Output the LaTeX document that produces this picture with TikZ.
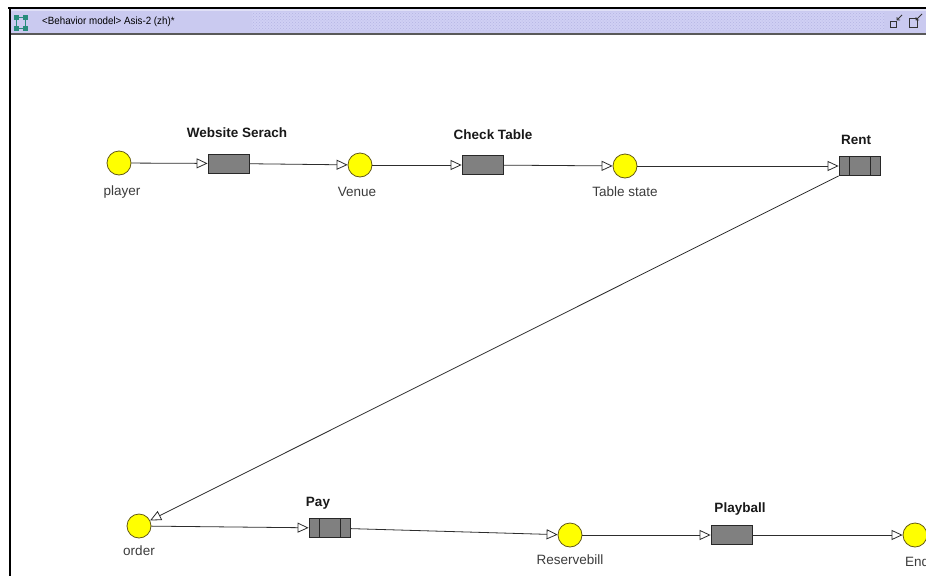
\documentclass[tikz,border=0pt]{standalone}
\usepackage{fontspec}
\setmainfont{Liberation Sans}
\usetikzlibrary{arrows.meta,patterns}

\definecolor{barfill}{RGB}{202,202,240}
\definecolor{barhatch}{RGB}{208,208,244}
\definecolor{hatchdots}{RGB}{180,180,228}
\definecolor{iconteal}{RGB}{40,140,125}
\definecolor{placefill}{RGB}{255,255,0}
\definecolor{placeedge}{RGB}{100,90,20}
\definecolor{transfill}{RGB}{128,128,128}
\definecolor{transedge}{RGB}{40,40,40}
\definecolor{edgecol}{RGB}{45,45,45}
\definecolor{labelcol}{RGB}{60,60,60}

\tikzset{
  place/.style={circle, draw=placeedge, fill=placefill, line width=0.8pt,
                minimum size=24pt, inner sep=0pt},
  trans/.style={rectangle, draw=transedge, fill=transfill, line width=0.8pt,
                minimum width=41pt, minimum height=19pt, inner sep=0pt},
  plabel/.style={font=\fontsize{13.5}{14}\selectfont, text=labelcol, inner sep=0pt},
  tlabel/.style={font=\fontsize{13.5}{14}\selectfont\bfseries, text=black!90, inner sep=0pt},
  flow/.style={draw=edgecol, line width=0.8pt,
               -{Triangle[length=11pt, width=10pt, fill=white, line width=0.8pt]}},
  divider/.style={draw=transedge, line width=0.8pt}
}

\begin{document}
\begin{tikzpicture}[x=1pt, y=-1pt]
\useasboundingbox (0,0) rectangle (926,576);
\begin{scope}
\clip (0,0) rectangle (926,576);
\fill[white] (0,0) rectangle (926,576);

% window frame and title bar
\fill[barfill] (10,9) rectangle (926,33);
\fill[white!40!barfill] (10,9) rectangle (926,11);
\fill[barhatch] (252,12) rectangle (884,30);
\fill[pattern=crosshatch dots, pattern color=hatchdots] (252,12) rectangle (884,30);
\fill[black] (8,6.5) rectangle (926,9);
\fill[black] (8.5,6.5) rectangle (11,576);
\fill[black!65] (11,32.5) rectangle (926,35);

% window icon
\draw[iconteal, line width=0.9pt] (16,17) rectangle (25,28);
\foreach \ix/\iy in {16/17, 25/17, 16/28, 25/28}
  \fill[iconteal] (\ix-2.5,\iy-2.5) rectangle (\ix+2.5,\iy+2.5);
\node[anchor=west, inner sep=0pt, font=\fontsize{10.5}{10.5}\selectfont, text=black,
      xscale=0.93] (title) at (42,21.5) {<Behavior model> Asis-2 (zh)*};

% restore / maximise buttons
\draw[black!80, line width=0.9pt] (890,21) rectangle (896,27);
\draw[black!80, line width=0.9pt] (902,15) -- (897,20) (897,17) -- (897,20) -- (900,20);
\draw[black!80, line width=0.9pt] (909,18) rectangle (917,27);
\draw[black!80, line width=0.9pt] (922,14) -- (916,20) (916,17) -- (916,20) -- (919,20);

% places
\node[place] (player) at (119,163) {};
\node[place] (venue) at (360,165) {};
\node[place] (tstate) at (625,166) {};
\node[place] (order) at (139,526) {};
\node[place] (rbill) at (570,535) {};
\node[place] (endp) at (915,535) {};

% transitions
\node[trans] (web) at (228.5,163.5) {};
\node[trans] (check) at (482.5,165) {};
\node[trans] (rent) at (859.5,166) {};
\node[trans] (pay) at (329.5,528) {};
\node[trans] (play) at (731.5,535) {};

% dividers of the composite transitions
\draw[divider] (rent.north west) ++(10.5,0) -- ++(0,19);
\draw[divider] (rent.north east) ++(-10.5,0) -- ++(0,19);
\draw[divider] (pay.north west) ++(10.5,0) -- ++(0,19);
\draw[divider] (pay.north east) ++(-10.5,0) -- ++(0,19);

% place labels
\node[plabel] (playerL) at (122,192) {player};
\node[plabel] (venueL) at (357,192) {Venue};
\node[plabel] (tstateL) at (625,192) {Table state};
\node[plabel] (orderL) at (139,551) {order};
\node[plabel] (rbillL) at (570,560) {Reservebill};
\node[plabel] (endL) at (917,562) {End};

% transition labels
\node[tlabel] (webL) at (237,133) {Website Serach};
\node[tlabel] (checkL) at (493,135) {Check Table};
\node[tlabel] (rentL) at (856,140) {Rent};
\node[tlabel] (payL) at (318,503) {Pay};
\node[tlabel] (playL) at (740,509) {Playball};

% arcs
\draw[flow] (player) -- (web);
\draw[flow] (web) -- (venue);
\draw[flow] (venue) -- (check);
\draw[flow] (check) -- (tstate);
\draw[flow] (tstate) -- (rent);
\draw[flow] (rent.south west) -- (order);
\draw[flow] (order) -- (pay);
\draw[flow] (pay) -- (rbill);
\draw[flow] (rbill) -- (play);
\draw[flow] (play) -- (endp);
\end{scope}
\end{tikzpicture}
\end{document}
